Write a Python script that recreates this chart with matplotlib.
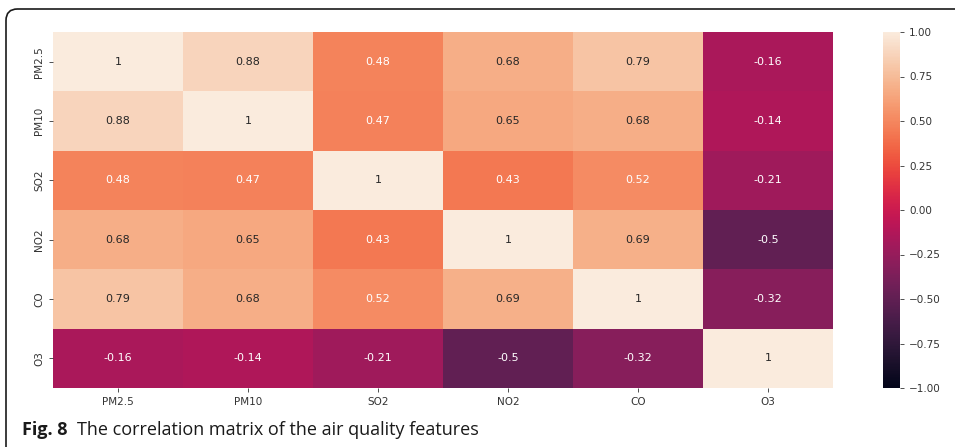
import matplotlib
matplotlib.use("Agg")
import matplotlib.pyplot as plt
import numpy as np
import seaborn as sns
from matplotlib.patches import FancyBboxPatch

labels = ["PM2.5", "PM10", "SO2", "NO2", "CO", "O3"]
row_pm25 = [1, 0.88, 0.48, 0.68, 0.79, -0.16]
row_pm10 = [0.88, 1, 0.47, 0.65, 0.68, -0.14]
row_so2 = [0.48, 0.47, 1, 0.43, 0.52, -0.21]
row_no2 = [0.68, 0.65, 0.43, 1, 0.69, -0.5]
row_co = [0.79, 0.68, 0.52, 0.69, 1, -0.32]
row_o3 = [-0.16, -0.14, -0.21, -0.5, -0.32, 1]
corr = np.array([row_pm25, row_pm10, row_so2, row_no2, row_co, row_o3])
cbar_ticks = [-1.0, -0.75, -0.5, -0.25, 0.0, 0.25, 0.5, 0.75, 1.0]

W, H = 955, 447
fig = plt.figure(figsize=(W / 100, H / 100), dpi=100)
plt.rcParams['font.family'] = ['DejaVu Sans']

ax = fig.add_axes([53 / W, 1 - 388 / H, 780 / W, 356 / H])
cax = fig.add_axes([883 / W, 1 - 388 / H, 17 / W, 356 / H])

sns.heatmap(corr, ax=ax, cbar_ax=cax, vmin=-1, vmax=1, annot=True,
            cmap="rocket", xticklabels=labels, yticklabels=labels,
            annot_kws={"fontsize": 8})

ax.tick_params(axis="both", labelsize=7.5, colors="#333333", length=3, width=0.6)
ax.tick_params(axis="x", labelrotation=0)
ax.tick_params(axis="y", labelrotation=90)
for lab in ax.get_yticklabels():
    lab.set_va("center")

cax.set_yticks(cbar_ticks)
cax.set_yticklabels([f"{t:.2f}".replace("-", "\u2212") for t in cbar_ticks])
cax.tick_params(labelsize=7.5, colors="#333333", length=3, width=0.6)

# rounded frame around figure (top-left corner visible)
frame = FancyBboxPatch((6 / W, -0.2), 1.2, (1 - 9 / H) + 0.2,
                       boxstyle="round,pad=0,rounding_size=0.012",
                       transform=fig.transFigure, fill=False,
                       edgecolor="#1a1a1a", linewidth=1.2, clip_on=False,
                       mutation_aspect=W / H)
fig.patches.append(frame)

t1 = fig.text(22 / W, 1 - 430 / H, "Fig. 8", fontsize=13, fontweight="bold",
              family=["Open Sans", "DejaVu Sans"], va="center", ha="left", color="#1a1a1a")
fig.canvas.draw()
bb = t1.get_window_extent()
fig.text((bb.x1 + 9) / W, 1 - 430 / H, "The correlation matrix of the air quality features",
         fontsize=13, family=["Open Sans", "DejaVu Sans"], va="center", ha="left", color="#1a1a1a")

fig.savefig("out.png", dpi=100)
